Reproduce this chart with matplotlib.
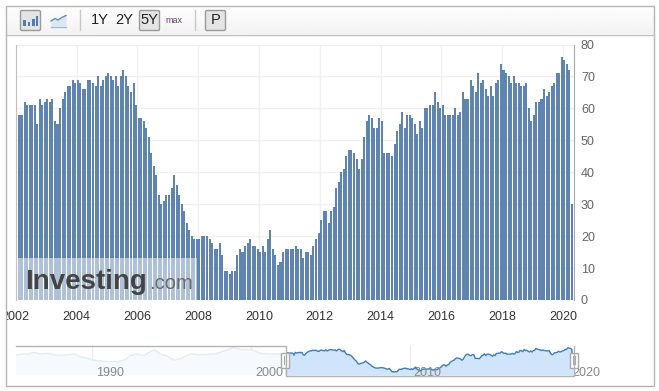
import matplotlib
matplotlib.use('Agg')
import matplotlib.pyplot as plt
from matplotlib.patches import Rectangle, FancyBboxPatch
from matplotlib.transforms import Bbox
import numpy as np

plt.rcParams['font.family'] = ['Liberation Sans', 'DejaVu Sans']

W, H = 659, 391

# monthly values
values = [58, 58, 62, 61, 61, 61, 61, 55, 63, 61,
          62, 63, 62, 63, 56, 55, 60, 63, 65, 67,
          67, 69, 68, 69, 68, 66, 66, 69, 69, 68,
          67, 70, 67, 69, 70, 71, 70, 69, 70, 67,
          70, 72, 70, 67, 65, 68, 61, 57, 57, 56,
          54, 51, 46, 42, 39, 33, 30, 31, 33, 33,
          35, 39, 36, 33, 30, 28, 24, 22, 20, 19,
          19, 19, 20, 20, 20, 19, 18, 16, 16, 18,
          14, 9, 9, 8, 9, 9, 14, 16, 15, 17,
          18, 19, 17, 17, 16, 15, 17, 15, 19, 22,
          16, 14, 11, 12, 15, 16, 16, 16, 16, 17,
          16, 16, 13, 15, 15, 14, 17, 19, 21, 25,
          28, 28, 24, 28, 29, 35, 37, 40, 41, 45,
          47, 47, 46, 44, 41, 44, 51, 56, 58, 57,
          54, 54, 57, 56, 46, 46, 46, 45, 49, 53,
          55, 59, 54, 58, 58, 57, 55, 52, 56, 54,
          60, 60, 61, 61, 65, 62, 60, 61, 58, 58,
          58, 58, 60, 58, 59, 65, 63, 63, 69, 67,
          65, 71, 68, 69, 66, 64, 67, 64, 68, 69,
          74, 72, 71, 70, 68, 70, 68, 68, 67, 67,
          68, 60, 56, 58, 62, 62, 63, 66, 64, 65,
          67, 68, 71, 71, 76, 75, 74, 72, 30]
first_year = 2002.125

# older history shown only in the navigator
old_years = [1985.0, 1985.25, 1985.57, 1985.88, 1986.3, 1986.7, 1987.15, 1987.8, 1988.4, 1988.9,
             1989.25, 1989.7, 1990.1, 1990.9, 1991.55, 1992.1, 1992.4, 1992.8, 1993.25, 1993.9,
             1994.3, 1994.7, 1995.15, 1995.6, 1996.2, 1996.8, 1997.7, 1998.3, 1998.9, 1999.35,
             2000.0, 2000.6, 2001.25, 2001.9]
old_values = [51, 56, 58, 58, 63, 59, 60, 55, 56, 58,
              51, 46, 41, 37, 37, 43, 54, 58, 54, 71,
              58, 53, 41, 46, 59, 56, 58, 67, 76, 71,
              71, 60, 58, 59]

x_ticks = [2002, 2004, 2006, 2008, 2010, 2012, 2014, 2016, 2018, 2020]
y_ticks = [0, 10, 20, 30, 40, 50, 60, 70, 80]
nav_ticks = [1990, 2000, 2010, 2020]

years = first_year + np.arange(len(values)) / 12


def px_axes(fig, left, top, right, bottom, **kw):
    return fig.add_axes([left / W, 1 - bottom / H, (right - left) / W, (bottom - top) / H], **kw)


fig = plt.figure(figsize=(W / 100, H / 100), dpi=100)

# main chart
ax = px_axes(fig, 15.7, 44.5, 574, 300)
ax.bar(years, values, width=0.8 / 12, color='#5f84b0', zorder=3)
ax.set_xlim(2002.048, 2020.36)
ax.set_ylim(0, 80)
ax.set_xticks(x_ticks)
ax.set_yticks(y_ticks)
ax.grid(True, color='#f0f0f0', lw=1)
ax.set_axisbelow(True)
ax.yaxis.tick_right()
ax.tick_params(length=0)
ax.tick_params(axis='x', labelsize=9, labelcolor='#333333', pad=8)
ax.tick_params(axis='y', labelsize=9, labelcolor='#666666', pad=5)
for s in ['top', 'bottom']:
    ax.spines[s].set_visible(False)
ax.spines['left'].set_color('#c0c0c0')
ax.spines['right'].set_color('#a8a8a8')

# the first label runs into the frame
frame_box = Bbox([[5.5, 0], [654, H]])
for t in ax.get_xticklabels():
    t.set_clip_box(frame_box)
    t.set_clip_on(True)

# navigator
nav = px_axes(fig, 16, 345, 574, 375)
nav.plot(old_years, old_values, color='#e2ecf6', lw=1)
nav.fill_between(old_years, -0.4, old_values, color='#f6fafe', lw=0)
nav.plot(years, values, color='#3f7db5', lw=1)
nav.fill_between(years, -0.4, values, color='#d0e4fb', lw=0)
nav.set_xlim(1985.19, 2020.35)
nav.set_ylim(-0.4, 83.6)
nav.axis('off')
for yr in nav_ticks:
    nav.axvline(yr, color='#ececec', lw=0.8, zorder=0)
    nav.text(yr + 0.25, 6, str(yr), fontsize=9, color='#888888', va='center', clip_on=False)

# page furniture in pixel coordinates
top = px_axes(fig, 0, 0, W, H)
top.patch.set_visible(False)
top.axis('off')
grad = np.linspace(1.0, 0.95, 30).reshape(-1, 1)
top.imshow(grad, extent=(5.5, 654, 34.5, 5.5), cmap='gray', vmin=0, vmax=1, aspect='auto')
top.set_xlim(0, W)
top.set_ylim(H, 0)
top.add_patch(Rectangle((5.5, 5.5), 648.5, 380.5, fill=False, ec='#b4b4b4', lw=1))
top.plot([5.5, 654], [34.5, 34.5], color='#c0c0c0', lw=1)
for x in [79.5, 194.5]:
    top.plot([x, x], [10, 30], color='#c8c8c8', lw=1)

for x0, x1 in [(20.5, 40.5), (139.5, 159.5), (205.5, 225.5)]:
    top.add_patch(FancyBboxPatch((x0 + 1, 11.5), x1 - x0 - 2, 18, boxstyle='round,pad=1,rounding_size=1.5',
                                 fc='#e4e4e4', ec='#9a9a9a', lw=1))

# bar icon
for x, y in [(23, 20), (27.5, 21.5), (32, 18.5), (35.5, 16)]:
    top.add_patch(Rectangle((x, y), 2.8, 26 - y, fc='#4f7cab', lw=0))
# line icon
line_x = [51, 55, 58, 61, 66]
line_y = [21, 18.5, 20, 18, 15.5]
top.fill_between(line_x, line_y, 26, color='#dbe7f3', lw=0)
top.plot(line_x, line_y, color='#5d8cbc', lw=1)
top.plot([51, 66], [26.5, 26.5], color='#9db9d6', lw=1)

for x, s in [(100, '1Y'), (124.5, '2Y'), (149.5, '5Y'), (215.5, 'P')]:
    top.text(x, 20.5, s, fontsize=10.5, color='#222222', ha='center', va='center')
top.text(173.5, 20.5, 'max', fontsize=6.5, color='#6a3d6e', ha='center', va='center')

# navigator outline and handles
top.plot([16, 285.5, 285.5, 573.5, 573.5], [345.5, 345.5, 375.5, 375.5, 345.5], color='#b4b4b4', lw=1)
for x in [284.5, 573.5]:
    top.add_patch(Rectangle((x - 4, 352.5), 8, 15, fc='white', ec='#aaaaaa', lw=1))
    top.plot([x - 1, x - 1], [356, 364], color='#aaaaaa', lw=0.8)
    top.plot([x + 1, x + 1], [356, 364], color='#aaaaaa', lw=0.8)

# watermark
top.add_patch(Rectangle((16.5, 258), 180.5, 42, fc='white', alpha=0.5, lw=0))
top.text(25, 289, 'Investing', fontsize=20, fontweight='bold', color='#444444', va='baseline')
top.text(149.5, 289, '.com', fontsize=14.5, color='#6a6a6a', va='baseline')
top.add_patch(Rectangle((106.5, 268.5), 3.5, 3.5, fc='#e8a33d', lw=0))

fig.savefig('out.png', dpi=100)
